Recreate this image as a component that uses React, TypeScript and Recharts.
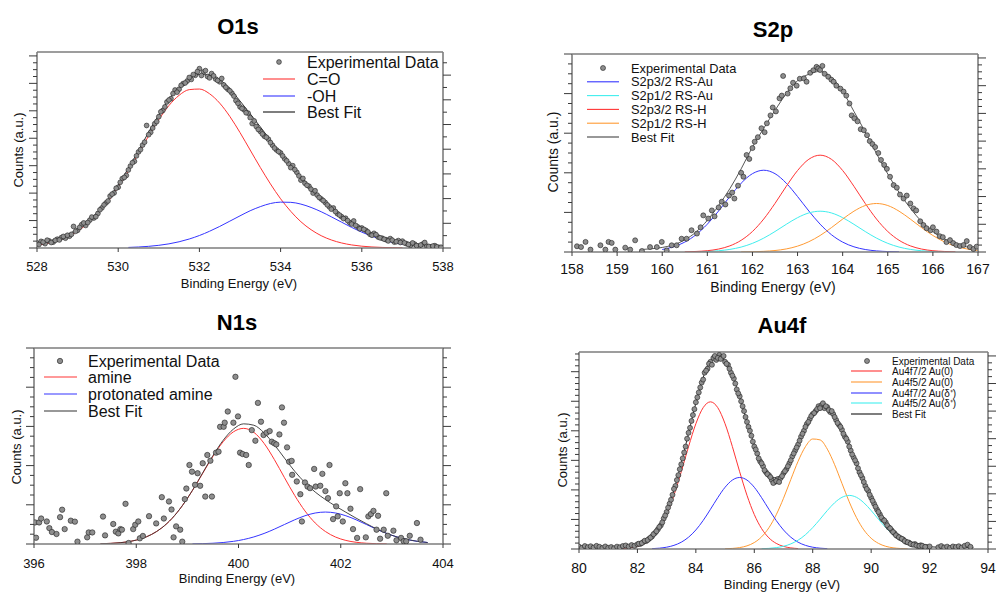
import React from "react";
import { ComposedChart, Line, Scatter, XAxis, YAxis } from "recharts";

const FONT = '"Liberation Sans", Arial, Helvetica, sans-serif';

const RED = "#ff3434";
const BLUE = "#3535ff";
const CYAN = "#40eeee";
const ORANGE = "#ff9a33";
const BLACK = "#151515";

// ---------- O1s ----------
const o1sTicks = [528, 530, 532, 534, 536, 538];
const o1sX = [528, 528.25, 528.5, 528.75, 529, 529.25, 529.5, 529.75, 530, 530.25, 530.5, 530.75, 531, 531.25, 531.5, 531.75, 532, 532.25, 532.5, 532.75, 533, 533.25, 533.5, 533.75, 534, 534.25, 534.5, 534.75, 535, 535.25, 535.5, 535.75, 536, 536.25, 536.5, 536.75, 537, 537.25, 537.5, 537.75, 538];
const o1sCO = [1.41, 2.34, 3.74, 5.78, 8.66, 12.5, 17.5, 23.7, 31.1, 39.4, 48.2, 57.2, 65.5, 72.7, 77.9, 80.8, 81.1, 78.7, 73.9, 67.1, 58.9, 50.0, 41.1, 32.7, 25.1, 18.7, 13.4, 9.34, 6.28, 4.09, 2.58, 1.57, 0.92, 0.53, 0.29, 0.16, 0.08, null, null, null, null];
const o1sOH = [null, null, null, null, null, null, null, null, null, 0.29, 0.51, 0.85, 1.37, 2.12, 3.18, 4.59, 6.37, 8.54, 11.0, 13.7, 16.4, 19.0, 21.1, 22.7, 23.4, 23.3, 22.4, 20.7, 18.5, 15.9, 13.2, 10.5, 8.08, 5.99, 4.28, 2.94, 1.95, null, null, null, null];
const o1sFit = [2.4, 3.3, 4.7, 6.8, 9.7, 13.5, 18.5, 24.7, 32.2, 40.7, 49.7, 59.1, 67.9, 75.8, 82.1, 86.4, 88.5, 88.2, 85.9, 81.3, 75.0, 68.5, 61.8, 55.0, 48.4, 42.5, 36.6, 30.9, 25.8, 21.0, 16.8, 13.1, 10.0, 7.5, 5.6, 4.1, 3.0, 2.2, 1.7, 1.4, 1.2];
const o1sData = [
  [528.0, 2.5], [528.1, 3.4], [528.2, 2.2], [528.3, 3.6], [528.4, 3.0], [528.5, 4.5], [528.6, 5.3], [528.7, 5.0], [528.8, 6.0], [528.9, 11.0],
  [529.0, 9.0], [529.1, 11.9], [529.2, 11.5], [529.3, 14.2], [529.4, 15.3], [529.5, 17.6], [529.6, 20.5], [529.7, 23.0], [529.8, 26.5], [529.9, 28.1],
  [530.0, 31.0], [530.1, 35.4], [530.2, 37.0], [530.3, 41.8], [530.4, 44.2], [530.5, 49.0], [530.6, 52.5], [530.7, 62.5], [530.8, 59.0], [530.9, 63.4],
  [531.0, 67.0], [531.1, 70.2], [531.2, 74.5], [531.3, 76.2], [531.4, 80.6], [531.5, 81.0], [531.6, 83.9], [531.7, 85.2], [531.8, 86.0], [531.9, 88.1],
  [532.0, 91.5], [532.1, 89.8], [532.2, 87.5], [532.3, 89.0], [532.4, 86.2], [532.5, 84.8], [532.6, 83.2], [532.7, 81.0], [532.8, 79.0], [532.9, 75.2],
  [533.0, 72.0], [533.1, 70.5], [533.2, 68.8], [533.3, 63.5], [533.4, 62.0], [533.5, 59.5], [533.6, 57.0], [533.7, 55.5], [533.8, 52.4], [533.9, 50.0],
  [534.0, 48.5], [534.1, 45.5], [534.2, 43.0], [534.3, 42.0], [534.4, 38.6], [534.5, 34.6], [534.6, 33.0], [534.7, 31.5], [534.8, 28.0], [534.9, 27.0],
  [535.0, 25.0], [535.1, 23.2], [535.2, 21.0], [535.3, 20.4], [535.4, 17.5], [535.5, 16.0], [535.6, 15.2], [535.7, 13.0], [535.8, 13.8], [535.9, 10.8],
  [536.0, 10.2], [536.1, 9.0], [536.2, 7.0], [536.3, 7.5], [536.4, 5.6], [536.5, 5.0], [536.6, 4.2], [536.7, 4.8], [536.8, 3.0], [536.9, 3.8],
  [537.0, 3.5], [537.1, 2.2], [537.2, 1.4], [537.3, 2.0], [537.4, 0.8], [537.5, 2.0], [537.6, 1.0], [537.7, 0.5], [537.8, 1.2], [537.9, 0.3],
  [528.05, 1.8], [528.15, 3.0], [528.25, 4.0], [528.35, 2.8], [528.45, 3.9], [528.55, 4.1], [528.65, 5.9], [528.75, 6.5], [528.85, 7.0], [528.95, 8.5],
  [529.05, 10.5], [529.15, 12.8], [529.25, 13.0], [529.35, 15.8], [529.45, 16.0], [529.55, 19.5], [529.65, 22.0], [529.75, 24.0], [529.85, 27.5], [529.95, 30.5],
  [530.05, 33.5], [530.15, 36.0], [530.25, 39.8], [530.35, 43.5], [530.45, 47.0], [530.55, 50.2], [530.65, 54.0], [530.75, 57.8], [530.85, 61.2], [530.95, 64.5],
  [531.05, 69.5], [531.15, 72.0], [531.25, 75.5], [531.35, 78.8], [531.45, 79.5], [531.55, 83.0], [531.65, 84.2], [531.75, 87.0], [531.85, 88.5], [531.95, 90.0],
  [532.05, 88.0], [532.15, 90.5], [532.25, 86.8], [532.35, 87.8], [532.45, 85.5], [532.55, 86.5], [532.65, 82.0], [532.75, 80.2], [532.85, 77.5], [532.95, 73.8],
  [533.05, 71.2], [533.15, 69.0], [533.25, 66.5], [533.35, 64.8], [533.45, 60.5], [533.55, 58.2], [533.65, 56.5], [533.75, 53.8], [533.85, 51.0], [533.95, 49.2],
  [534.05, 47.0], [534.15, 44.5], [534.25, 41.0], [534.35, 40.0], [534.45, 36.8], [534.55, 35.5], [534.65, 32.0], [534.75, 30.0], [534.85, 29.2], [534.95, 25.8],
  [535.05, 24.2], [535.15, 22.0], [535.25, 19.8], [535.35, 18.6], [535.45, 16.8], [535.55, 15.0], [535.65, 14.0], [535.75, 12.2], [535.85, 11.5], [535.95, 9.8],
  [536.05, 9.5], [536.15, 8.2], [536.25, 6.5], [536.35, 6.8], [536.45, 5.2], [536.55, 4.5], [536.65, 3.6], [536.75, 4.0], [536.85, 3.2], [536.95, 2.8],
  [537.05, 2.6], [537.15, 1.8], [537.25, 2.6], [537.35, 1.2], [537.45, 1.5], [537.55, 2.8], [537.65, 0.8], [537.75, 1.0], [537.85, 0.6], [537.95, 0.4],
];

// ---------- S2p ----------
const s2pTicks = [158, 159, 160, 161, 162, 163, 164, 165, 166, 167];
const s2pX = [159.5, 159.75, 160, 160.25, 160.5, 160.75, 161, 161.25, 161.5, 161.75, 162, 162.25, 162.5, 162.75, 163, 163.25, 163.5, 163.75, 164, 164.25, 164.5, 164.75, 165, 165.25, 165.5, 165.75, 166, 166.25, 166.5, 166.75, 167];
const s2p32Au = [null, null, 1.26, 2.62, 5.0, 8.75, 14.06, 20.72, 28.02, 34.76, 39.56, 41.3, 39.56, 34.76, 28.02, 20.72, 14.06, 8.75, 5.0, 2.62, 1.26, 0.55, 0.22, 0.08, null, null, null, null, null, null, null];
const s2p12Au = [null, null, null, null, null, 0.11, 0.28, 0.63, 1.31, 2.49, 4.37, 7.01, 10.34, 13.98, 17.34, 19.73, 20.6, 19.73, 17.34, 13.98, 10.34, 7.01, 4.37, 2.49, 1.31, 0.63, 0.28, 0.11, null, null, null];
const s2p32H = [null, null, null, null, 0.1, 0.27, 0.66, 1.49, 3.1, 5.92, 10.36, 16.65, 24.53, 33.18, 41.15, 46.84, 48.9, 46.84, 41.15, 33.18, 24.53, 16.65, 10.36, 5.92, 3.1, 1.49, 0.66, 0.27, 0.1, null, null];
const s2p12H = [null, null, null, null, null, null, null, null, null, 0.05, 0.13, 0.33, 0.75, 1.55, 2.96, 5.19, 8.34, 12.29, 16.62, 20.62, 23.47, 24.5, 23.47, 20.62, 16.62, 12.29, 8.34, 5.19, 2.96, 1.55, 0.75];
const s2pFit = [1.2, 1.6, 2.3, 3.6, 6.1, 10.1, 16.0, 23.5, 32.0, 42.0, 53.0, 62.5, 71.5, 80.0, 86.5, 89.8, 91.2, 88.3, 81.1, 71.0, 60.6, 49.7, 39.4, 30.1, 22.1, 15.4, 10.3, 6.6, 4.1, 2.6, 1.8];
const s2pData = [
  [158.11, 2.9], [158.2, 2.5], [158.3, 5.1], [158.41, 1.2], [158.63, 3.4], [158.74, 1.2], [158.81, 5.1], [158.88, 4.6], [158.96, 1.2], [159.18, 2.2],
  [159.29, 1.2], [159.4, 5.9], [159.55, 0.5], [159.73, 2.5], [159.88, 2.5], [159.99, 5.1], [160.1, 0.8], [160.21, 3.4], [160.32, 3.4], [160.43, 6.7],
  [160.54, 6.7], [160.65, 11], [160.77, 9.3], [160.85, 12.5], [160.91, 18.5], [161.02, 16.9], [161.1, 21], [161.16, 18], [161.25, 22.5], [161.32, 25.4],
  [161.4, 24], [161.48, 28.5], [161.55, 30], [161.6, 27], [161.68, 33.5], [161.75, 40], [161.8, 38], [161.87, 49], [161.93, 47], [162.0, 52.5],
  [162.05, 55.7], [162.12, 58], [162.2, 62.5], [162.27, 60.5], [162.32, 65], [162.4, 69], [162.45, 73], [162.52, 71], [162.6, 77.6], [162.65, 79],
  [162.68, 88.9], [162.78, 80], [162.84, 82.7], [162.9, 85.5], [162.98, 84], [163.05, 87.5], [163.14, 87.7], [163.2, 86], [163.28, 90.5], [163.35, 91.8],
  [163.42, 93.5], [163.46, 92.7], [163.5, 91.9], [163.55, 94], [163.6, 90], [163.68, 88.5], [163.75, 87], [163.8, 86], [163.86, 84], [163.95, 82.5],
  [164.02, 81], [164.08, 79], [164.15, 75], [164.2, 69], [164.26, 67.5], [164.33, 66], [164.4, 62], [164.47, 61.5], [164.54, 59], [164.6, 56],
  [164.66, 54.5], [164.72, 53], [164.79, 50], [164.85, 46.5], [164.92, 44], [164.98, 42], [165.05, 38], [165.13, 33.8], [165.2, 32.5], [165.27, 29],
  [165.35, 27], [165.42, 28.5], [165.5, 24.5], [165.57, 22], [165.63, 21], [165.72, 15.5], [165.79, 13.6], [165.86, 12], [165.95, 11], [166.0, 12.5],
  [166.08, 10.3], [166.15, 8], [166.22, 7.5], [166.3, 5], [166.38, 6], [166.45, 4.5], [166.52, 3.5], [166.6, 3], [166.68, 3.5], [166.75, 5.5],
  [166.82, 2.5], [166.9, 1.5], [166.97, 2.7],
];

// ---------- N1s ----------
const n1sTicks = [396, 398, 400, 402, 404];
const n1sX = [397.3, 397.5, 397.7, 397.9, 398.1, 398.3, 398.5, 398.7, 398.9, 399.1, 399.3, 399.5, 399.7, 399.9, 400.1, 400.3, 400.5, 400.7, 400.9, 401.1, 401.3, 401.5, 401.7, 401.9, 402.1, 402.3, 402.5, 402.7, 402.9, 403.1, 403.3, 403.5, 403.7];
const n1sAmine = [0.14, 0.32, 0.7, 1.43, 2.72, 4.88, 8.24, 13.06, 19.49, 27.34, 36.06, 44.73, 52.17, 57.21, 59, 56.98, 51.34, 43.14, 33.82, 24.73, 16.87, 10.73, 6.37, 3.53, 1.82, 0.88, 0.39, 0.16, 0.06, null, null, null, null];
const n1sProt = [null, null, null, null, null, null, null, null, null, 0.09, 0.19, 0.39, 0.75, 1.35, 2.28, 3.61, 5.38, 7.55, 9.96, 12.36, 14.41, 15.81, 16.3, 15.81, 14.41, 12.36, 9.96, 7.55, 5.38, 3.61, 2.28, 1.35, 0.75];
const n1sFit = [0.14, 0.32, 0.7, 1.43, 2.72, 4.88, 8.24, 13.06, 19.5, 27.4, 36.3, 45.1, 52.9, 58.6, 61.3, 60.6, 56.7, 50.7, 43.8, 37.1, 31.3, 26.5, 22.7, 19.3, 16.2, 13.2, 10.4, 7.7, 5.4, 3.6, 2.3, 1.35, 0.75];
const n1sData = [
  [396.02, 11], [396.04, 3.2], [396.1, 11], [396.14, 13], [396.25, 11.5], [396.3, 8.1], [396.35, 6.1], [396.44, 5.1], [396.51, 13.7], [396.55, 17.5],
  [396.6, 7.6], [396.72, 11.9], [396.8, 11.4], [396.85, 1.2], [397.04, 3.4], [397.07, 5.9], [397.14, 5.9], [397.35, 14], [397.39, 4.4], [397.55, 10.2],
  [397.6, 6.3], [397.65, 5.4], [397.69, 7.6], [397.72, 7.3], [397.79, 20.5], [397.85, 0.5], [397.94, 7.6], [397.98, 9.8], [398.04, 11.5], [398.07, 2.9],
  [398.13, 4.1], [398.25, 14.2], [398.39, 10.5], [398.5, 23.9], [398.54, 13], [398.64, 21.7], [398.69, 17.6], [398.73, 3.4], [398.78, 9], [398.86, 7.3],
  [398.9, 1.2], [398.95, 22.9], [398.98, 28.3], [399.04, 40.3], [399.09, 36.9], [399.15, 30.2], [399.2, 36.1], [399.25, 29.7], [399.3, 41.2], [399.35, 24.2],
  [399.39, 45.4], [399.45, 42.5], [399.48, 24.2], [399.56, 46.6], [399.61, 47.1], [399.64, 59.8], [399.71, 59.8], [399.73, 61.9], [399.79, 67.6], [399.9, 61.9],
  [399.94, 85.3], [399.99, 65.1], [400.03, 46.6], [400.08, 45.9], [400.15, 45.4], [400.2, 40.3], [400.26, 58.1], [400.33, 52.7], [400.38, 72], [400.44, 62.4],
  [400.49, 55.6], [400.55, 56.8], [400.61, 57.6], [400.65, 52.2], [400.7, 51.4], [400.74, 50.8], [400.8, 55.9], [400.85, 69.7], [400.89, 61.9], [400.95, 49.3],
  [400.99, 42], [401.04, 42.4], [401.05, 35.3], [401.14, 31.9], [401.21, 25.4], [401.24, 11.5], [401.3, 31.4], [401.35, 29.3], [401.4, 28.5], [401.48, 38.3],
  [401.51, 29.3], [401.6, 29.7], [401.64, 35.8], [401.7, 27], [401.75, 23.4], [401.78, 40.3], [401.85, 12.7], [401.91, 19.2], [401.94, 14.1], [401.98, 25.9],
  [402.04, 11.5], [402.09, 31], [402.13, 25.9], [402.19, 18], [402.24, 7.6], [402.32, 3.1], [402.38, 28], [402.49, 3.4], [402.54, 14.1], [402.59, 15.3],
  [402.64, 16.9], [402.7, 7.3], [402.73, 14.4], [402.77, 2.7], [402.84, 7.3], [402.89, 25.9], [402.92, 4.2], [403.03, 6.8], [403.09, 1.9], [403.18, 3.1],
  [403.23, 1.4], [403.28, 1.4], [403.35, 4.2], [403.49, 10.7], [403.56, 2.2],
];

// ---------- Au4f ----------
const auTicks = [80, 82, 84, 86, 88, 90, 92, 94];
const auX = [80, 80.25, 80.5, 80.75, 81, 81.25, 81.5, 81.75, 82, 82.25, 82.5, 82.75, 83, 83.25, 83.5, 83.75, 84, 84.25, 84.5, 84.75, 85, 85.25, 85.5, 85.75, 86, 86.25, 86.5, 86.75, 87, 87.25, 87.5, 87.75, 88, 88.25, 88.5, 88.75, 89, 89.25, 89.5, 89.75, 90, 90.25, 90.5, 90.75, 91, 91.25, 91.5, 91.75, 92, 92.25, 92.5, 92.75, 93, 93.25, 93.5];
const au72Au0 = [null, null, null, null, null, null, 0.22, 0.57, 1.32, 2.85, 5.65, 10.36, 17.49, 27.26, 39.19, 51.97, 63.57, 71.75, 74.7, 71.75, 63.57, 51.97, 39.19, 27.26, 17.49, 10.36, 5.65, 2.85, 1.32, 0.57, 0.22, null, null, null, null, null, null, null, null, null, null, null, null, null, null, null, null, null, null, null, null, null, null, null, null];
const au52Au0 = [null, null, null, null, null, null, null, null, null, null, null, null, null, null, null, null, null, null, null, null, 0.11, 0.3, 0.72, 1.6, 3.27, 6.18, 10.78, 17.34, 25.75, 35.27, 44.55, 51.93, 55.84, 55.39, 50.69, 42.79, 33.33, 23.94, 15.87, 9.7, 5.47, 2.85, 1.37, 0.61, 0.25, 0.1, null, null, null, null, null, null, null, null, null];
const au72Aud = [null, null, null, null, null, null, null, null, null, null, 0.18, 0.42, 0.92, 1.85, 3.45, 5.99, 9.66, 14.48, 20.16, 26.07, 31.33, 34.99, 36.3, 34.99, 31.33, 26.07, 20.16, 14.48, 9.66, 5.99, 3.45, 1.85, 0.92, 0.42, 0.18, null, null, null, null, null, null, null, null, null, null, null, null, null, null, null, null, null, null, null, null];
const au52Aud = [null, null, null, null, null, null, null, null, null, null, null, null, null, null, null, null, null, null, null, null, null, null, null, null, null, 0.14, 0.32, 0.69, 1.38, 2.59, 4.49, 7.24, 10.85, 15.1, 19.54, 23.48, 26.22, 27.2, 26.22, 23.48, 19.54, 15.1, 10.85, 7.24, 4.49, 2.59, 1.38, 0.69, 0.32, null, null, null, null, null, null];
const auFit = [0.8, 0.8, 0.8, 0.8, 0.8, 0.9, 1.0, 1.4, 2.1, 3.65, 6.63, 11.58, 19.21, 29.91, 43.44, 58.76, 74.03, 87.03, 95.66, 97.9, 95.3, 88.06, 77.01, 64.65, 52.89, 43.55, 37.71, 36.16, 38.91, 45.22, 53.51, 61.82, 68.41, 71.71, 71.21, 67.07, 60.35, 51.94, 42.89, 33.98, 25.81, 18.75, 13.02, 8.65, 5.54, 3.49, 2.18, 1.49, 1.12, 0.95, 0.9, 0.85, 0.85, 0.8, 0.8];
const auData = [
  [80.0, 1.2], [80.1, 0.6], [80.2, 1.5], [80.3, 0.9], [80.4, 1.4], [80.5, 0.7], [80.6, 1.6], [80.7, 1.1], [80.8, 0.5], [80.9, 1.3],
  [81.0, 0.6], [81.1, 1.0], [81.2, 0.4], [81.3, 1.2], [81.4, 0.9], [81.5, 1.5], [81.6, 1.8], [81.7, 1.2], [81.8, 2.0], [81.9, 1.6],
  [82.0, 2.4], [82.1, 2.6], [82.2, 3.5], [82.3, 4.0], [82.4, 5.2], [82.5, 6.4], [82.6, 8.1], [82.7, 10.0], [82.8, 12.0], [82.9, 15.5],
  [83.0, 18.8], [83.1, 23.0], [83.2, 27.5], [83.3, 32.0], [83.4, 37.5], [83.5, 43.0], [83.6, 49.0], [83.7, 56.0], [83.8, 61.5], [83.9, 68.0],
  [84.0, 74.5], [84.1, 79.5], [84.2, 84.5], [84.3, 89.5], [84.4, 91.5], [84.5, 95.0], [84.6, 97.0], [84.7, 96.0], [84.8, 98.5], [84.9, 97.5],
  [85.0, 95.0], [85.1, 93.5], [85.2, 89.5], [85.3, 86.5], [85.4, 81.0], [85.5, 77.5], [85.6, 72.5], [85.7, 67.0], [85.8, 62.0], [85.9, 57.5],
  [86.0, 52.0], [86.1, 48.5], [86.2, 44.5], [86.3, 42.0], [86.4, 39.0], [86.5, 37.5], [86.6, 35.0], [86.7, 34.0], [86.8, 35.5], [86.9, 36.0],
  [87.0, 38.5], [87.1, 40.5], [87.2, 43.5], [87.3, 47.0], [87.4, 50.0], [87.5, 53.0], [87.6, 57.0], [87.7, 60.0], [87.8, 63.5], [87.9, 66.0],
  [88.0, 68.5], [88.1, 70.0], [88.2, 72.5], [88.3, 73.0], [88.4, 71.5], [88.5, 72.0], [88.6, 69.5], [88.7, 68.5], [88.8, 65.5], [88.9, 63.0],
  [89.0, 60.5], [89.1, 57.0], [89.2, 54.5], [89.3, 50.0], [89.4, 46.5], [89.5, 43.5], [89.6, 39.0], [89.7, 36.0], [89.8, 32.0], [89.9, 29.5],
  [90.0, 26.0], [90.1, 23.0], [90.2, 20.0], [90.3, 17.5], [90.4, 15.0], [90.5, 13.5], [90.6, 11.0], [90.7, 9.5], [90.8, 8.0], [90.9, 6.5],
  [91.0, 5.5], [91.1, 4.8], [91.2, 3.6], [91.3, 3.2], [91.4, 2.3], [91.5, 2.5], [91.6, 1.6], [91.7, 1.9], [91.8, 1.2], [91.9, 1.0],
  [92.0, 1.3], [92.3, 0.9], [92.4, 1.5], [92.5, 0.8], [92.6, 1.2], [92.7, 0.6], [92.8, 1.3], [92.9, 1.0], [93.0, 1.4], [93.1, 0.7],
  [93.2, 1.6], [93.3, 2.2], [93.4, 1.1],
  [82.05, 2.7], [82.15, 3.0], [82.25, 4.2], [82.35, 4.6], [82.45, 5.8], [82.55, 7.5], [82.65, 9.0], [82.75, 11.2], [82.85, 13.5], [82.95, 17.0],
  [83.05, 21.0], [83.15, 25.0], [83.25, 30.5], [83.35, 35.0], [83.45, 40.5], [83.55, 46.0], [83.65, 52.0], [83.75, 59.0], [83.85, 65.0], [83.95, 71.0],
  [84.05, 77.0], [84.15, 82.0], [84.25, 86.0], [84.35, 90.5], [84.45, 94.0], [84.55, 93.5], [84.65, 98.0], [84.75, 97.0], [84.85, 96.5], [84.95, 98.0],
  [85.05, 94.0], [85.15, 91.5], [85.25, 88.0], [85.35, 84.0], [85.45, 79.0], [85.55, 75.0], [85.65, 70.0], [85.75, 64.5], [85.85, 60.0], [85.95, 54.5],
  [86.05, 50.5], [86.15, 46.0], [86.25, 43.5], [86.35, 40.0], [86.45, 38.0], [86.55, 36.5], [86.65, 33.5], [86.75, 34.5], [86.85, 34.0], [86.95, 37.0],
  [87.05, 39.5], [87.15, 42.0], [87.25, 45.0], [87.35, 48.5], [87.45, 51.5], [87.55, 55.0], [87.65, 58.5], [87.75, 62.0], [87.85, 64.5], [87.95, 67.5],
  [88.05, 69.0], [88.15, 71.0], [88.25, 71.5], [88.35, 74.0], [88.45, 72.5], [88.55, 70.5], [88.65, 70.0], [88.75, 67.0], [88.85, 64.0], [88.95, 62.0],
  [89.05, 58.5], [89.15, 56.0], [89.25, 52.0], [89.35, 48.0], [89.45, 45.0], [89.55, 41.0], [89.65, 37.5], [89.75, 34.0], [89.85, 30.5], [89.95, 27.5],
  [90.05, 24.5], [90.15, 21.5], [90.25, 18.8], [90.35, 16.0], [90.45, 14.5], [90.55, 12.0], [90.65, 10.5], [90.75, 8.6], [90.85, 7.0], [90.95, 6.0],
  [91.05, 5.2], [91.15, 4.0], [91.25, 3.4], [91.35, 2.6], [91.45, 2.2], [91.55, 1.8], [91.65, 1.5], [91.75, 1.6], [91.85, 1.1],
];

// unlabeled frame ticks (axis fraction, 0..100)
const t35Minor = [3.5, 7, 10.5, 17.5, 21, 24.5, 31.5, 35, 38.5, 45.5, 49, 52.5, 59.5, 63, 66.5, 73.5, 77, 80.5, 87.5, 91, 94.5];
const t35Major = [0, 14, 28, 42, 56, 70, 84, 98];
const t5Minor = [5, 10, 15, 25, 30, 35, 45, 50, 55, 65, 70, 75, 85, 90, 95];
const t5Major = [0, 20, 40, 60, 80, 100];
const t3Minor = [3, 6, 9, 12, 18, 21, 24, 27, 33, 36, 39, 42, 48, 51, 54, 57, 63, 66, 69, 72, 78, 81, 84, 87, 93, 96, 99];
const t3Major = [0, 15, 30, 45, 60, 75, 90];
const t63Minor = [6.3, 18.9, 31.5, 44.1, 56.7, 69.3, 81.9, 94.5];
const t63Major = [0, 12.6, 25.2, 37.8, 50.4, 63, 75.6, 88.2];

type Pt = { x: number; y: number | null };
const zip = (xs: number[], ys: (number | null)[]): Pt[] => xs.map((x, i) => ({ x, y: ys[i] }));
const pairs = (p: number[][]) => p.map(([x, y]) => ({ x, y }));

type TickSet = [number[], number[]];
type Curve = { label: string; color: string; data: Pt[]; width?: number };
type Spec = {
  title: string;
  box: { x: number; y: number; w: number; h: number };
  plot: { l: number; t: number; r: number; b: number };
  domain: [number, number];
  xTicks: number[];
  tickFont: number;
  tickMargin: number;
  dotR: number;
  points: { x: number; y: number }[];
  curves: Curve[];
  frame: { top: TickSet; left: TickSet; right: TickSet };
  titlePos: [number, number];
  xLabel: [number, number, number];
  yLabel: [number, number, number];
  legend: { markerX: number; x1: number; x2: number; textX: number; rows: number[]; fs: number };
};

const specs: Spec[] = [
  {
    title: "O1s",
    box: { x: 0, y: 30, w: 470, h: 260 },
    plot: { l: 37, t: 52, r: 443, b: 248 },
    domain: [528, 538],
    xTicks: o1sTicks,
    tickFont: 13,
    tickMargin: 9.5,
    dotR: 2.4,
    points: pairs(o1sData),
    curves: [
      { label: "C=O", color: RED, data: zip(o1sX, o1sCO) },
      { label: "-OH", color: BLUE, data: zip(o1sX, o1sOH) },
      { label: "Best Fit", color: BLACK, data: zip(o1sX, o1sFit), width: 0.9 },
    ],
    frame: { top: [t35Major, t35Minor], left: [t35Major, t35Minor], right: [t63Major, t63Minor] },
    titlePos: [238, 26],
    xLabel: [239, 283, 13],
    yLabel: [18, 150, 13],
    legend: { markerX: 279, x1: 263, x2: 295, textX: 307, rows: [62, 79, 96, 112], fs: 16 },
  },
  {
    title: "S2p",
    box: { x: 520, y: 30, w: 477, h: 262 },
    plot: { l: 572, t: 54, r: 978, b: 252 },
    domain: [158, 167],
    xTicks: s2pTicks,
    tickFont: 14,
    tickMargin: 8,
    dotR: 2.5,
    points: pairs(s2pData),
    curves: [
      { label: "S2p3/2 RS-Au", color: BLUE, data: zip(s2pX, s2p32Au) },
      { label: "S2p1/2 RS-Au", color: CYAN, data: zip(s2pX, s2p12Au) },
      { label: "S2p3/2 RS-H", color: RED, data: zip(s2pX, s2p32H) },
      { label: "S2p1/2 RS-H", color: ORANGE, data: zip(s2pX, s2p12H) },
      { label: "Best Fit", color: "#444", data: zip(s2pX, s2pFit), width: 0.9 },
    ],
    frame: { top: [t3Major, t3Minor], left: [t5Major, t5Minor], right: [t35Major, t35Minor] },
    titlePos: [773, 29],
    xLabel: [773, 287, 14],
    yLabel: [553, 152, 14],
    legend: { markerX: 603, x1: 587, x2: 619, textX: 631, rows: [68, 81.8, 95.6, 109.4, 123.2, 137], fs: 12.8 },
  },
  {
    title: "N1s",
    box: { x: 0, y: 330, w: 470, h: 264 },
    plot: { l: 34, t: 348, r: 443, b: 544 },
    domain: [396, 404],
    xTicks: n1sTicks,
    tickFont: 13,
    tickMargin: 10.5,
    dotR: 2.7,
    points: pairs(n1sData),
    curves: [
      { label: "amine", color: RED, data: zip(n1sX, n1sAmine) },
      { label: "protonated amine", color: BLUE, data: zip(n1sX, n1sProt) },
      { label: "Best Fit", color: "#333", data: zip(n1sX, n1sFit), width: 0.9 },
    ],
    frame: { top: [t5Major, t5Minor], left: [t5Major, t5Minor], right: [t5Major, t5Minor] },
    titlePos: [237, 322],
    xLabel: [237, 578, 13],
    yLabel: [16, 447, 13],
    legend: { markerX: 60, x1: 44, x2: 77, textX: 88, rows: [361, 377, 394, 411], fs: 16 },
  },
  {
    title: "Au4f",
    box: { x: 520, y: 330, w: 477, h: 264 },
    plot: { l: 579, t: 352, r: 988, b: 549 },
    domain: [80, 94],
    xTicks: auTicks,
    tickFont: 14,
    tickMargin: 10,
    dotR: 2.5,
    points: pairs(auData),
    curves: [
      { label: "Au4f7/2 Au(0)", color: RED, data: zip(auX, au72Au0) },
      { label: "Au4f5/2 Au(0)", color: ORANGE, data: zip(auX, au52Au0) },
      { label: "Au4f7/2 Au(δ⁺)", color: BLUE, data: zip(auX, au72Aud) },
      { label: "Au4f5/2 Au(δ⁺)", color: CYAN, data: zip(auX, au52Aud) },
      { label: "Best Fit", color: BLACK, data: zip(auX, auFit), width: 0.9 },
    ],
    frame: { top: [t3Major, t3Minor], left: [t3Major, t3Minor], right: [t35Major, t35Minor] },
    titlePos: [782, 325],
    xLabel: [782, 584, 13],
    yLabel: [562, 450, 13],
    legend: { markerX: 867, x1: 851, x2: 882, textX: 892, rows: [361, 371, 382, 393, 403, 414], fs: 10 },
  },
];

const frameLine = { stroke: "#7d7d7d", strokeWidth: 1.6 };
const tickStroke = { stroke: "#3a3a3a", strokeWidth: 1 };

// draws major (long) and minor (short) outward tick marks from the axis line
const tickMark = (major: number[], side: "top" | "left" | "right") => (p: any) => {
  const len = major.includes(p.payload.value) ? 8 : 4;
  const { x, y } = p;
  if (side === "top") return <line x1={x} x2={x} y1={y} y2={y - len} {...tickStroke} />;
  if (side === "left") return <line x1={x} x2={x - len} y1={y} y2={y} {...tickStroke} />;
  return <line x1={x} x2={x + len} y1={y} y2={y} {...tickStroke} />;
};

function Panel({ s }: { s: Spec }) {
  const { box, plot } = s;
  // axes take 1px each side
  const margin = {
    left: plot.l - box.x - 1,
    top: plot.t - box.y - 1,
    right: box.x + box.w - plot.r - 1,
    bottom: box.y + box.h - plot.b - 1,
  };
  const dot = (p: any) =>
    p.cx == null ? <g /> : <circle cx={p.cx} cy={p.cy} r={s.dotR} fill="#8e8e8e" stroke="#1f1f1f" strokeWidth={0.6} />;
  const frameAxis = {
    type: "number" as const,
    domain: [0, 100] as [number, number],
    allowDataOverflow: true,
    axisLine: frameLine,
    tickLine: false,
    tickSize: 0,
    tickMargin: 0,
    interval: 0 as const,
  };
  return (
    <div style={{ position: "absolute", left: box.x, top: box.y }}>
      <ComposedChart width={box.w} height={box.h} margin={margin}>
        <XAxis
          xAxisId="b"
          dataKey="x"
          type="number"
          domain={s.domain}
          ticks={s.xTicks}
          allowDataOverflow
          interval={0}
          height={1}
          axisLine={frameLine}
          tickLine={tickStroke}
          tickSize={4}
          tickMargin={s.tickMargin}
          tick={{ fontSize: s.tickFont, fill: "#111" }}
        />
        <XAxis
          xAxisId="t"
          orientation="top"
          height={1}
          ticks={[...s.frame.top[0], ...s.frame.top[1]]}
          tick={tickMark(s.frame.top[0], "top")}
          {...frameAxis}
        />
        <YAxis
          yAxisId="l"
          dataKey="y"
          width={1}
          ticks={[...s.frame.left[0], ...s.frame.left[1]]}
          tick={tickMark(s.frame.left[0], "left")}
          {...frameAxis}
        />
        <YAxis
          yAxisId="r"
          orientation="right"
          width={1}
          ticks={[...s.frame.right[0], ...s.frame.right[1]]}
          tick={tickMark(s.frame.right[0], "right")}
          {...frameAxis}
        />
        <Scatter xAxisId="b" yAxisId="l" data={s.points} shape={dot} isAnimationActive={false} />
        {s.curves.map((c) => (
          <Line
            key={c.label}
            xAxisId="b"
            yAxisId="l"
            data={c.data}
            dataKey="y"
            type="monotone"
            stroke={c.color}
            strokeWidth={c.width ?? 1}
            dot={false}
            activeDot={false}
            connectNulls={false}
            isAnimationActive={false}
          />
        ))}
      </ComposedChart>
    </div>
  );
}

function Texts({ s }: { s: Spec }) {
  const lg = s.legend;
  return (
    <g>
      <text x={s.titlePos[0]} y={s.titlePos[1]} dy="0.36em" textAnchor="middle" fontSize={22} fontWeight="bold" fill="#000">
        {s.title}
      </text>
      <text x={s.xLabel[0]} y={s.xLabel[1]} dy="0.36em" textAnchor="middle" fontSize={s.xLabel[2]} fill="#111">
        Binding Energy (eV)
      </text>
      <text
        x={s.yLabel[0]}
        y={s.yLabel[1]}
        dy="0.36em"
        textAnchor="middle"
        fontSize={s.yLabel[2]}
        fill="#111"
        transform={`rotate(-90 ${s.yLabel[0]} ${s.yLabel[1]})`}
      >
        Counts (a.u.)
      </text>
      <circle cx={lg.markerX} cy={lg.rows[0]} r={s.dotR} fill="#8e8e8e" stroke="#1f1f1f" strokeWidth={0.6} />
      <text x={lg.textX} y={lg.rows[0]} dy="0.36em" fontSize={lg.fs} fill="#111">
        Experimental Data
      </text>
      {s.curves.map((c, i) => {
        const y = lg.rows[i + 1];
        return (
          <g key={c.label}>
            <line x1={lg.x1} x2={lg.x2} y1={y} y2={y} stroke={c.color} strokeWidth={1.1} />
            <text x={lg.textX} y={y} dy="0.36em" fontSize={lg.fs} fill="#111">
              {c.label}
            </text>
          </g>
        );
      })}
    </g>
  );
}

export default function App() {
  return (
    <div style={{ position: "absolute", left: 0, top: 0, width: 997, height: 594, background: "#fff", fontFamily: FONT }}>
      {specs.map((s) => (
        <Panel key={s.title} s={s} />
      ))}
      <svg width={997} height={594} style={{ position: "absolute", left: 0, top: 0, pointerEvents: "none", fontFamily: FONT }}>
        {specs.map((s) => (
          <Texts key={s.title} s={s} />
        ))}
      </svg>
    </div>
  );
}
